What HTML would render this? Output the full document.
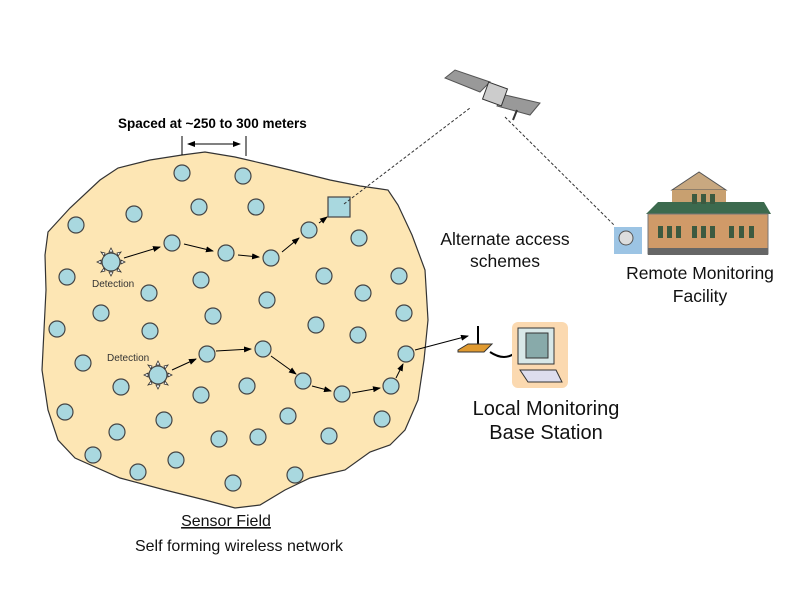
<!DOCTYPE html>
<html><head><style>body{margin:0;background:#fff}svg{display:block}</style></head><body>
<svg width="800" height="600" viewBox="0 0 800 600" xmlns="http://www.w3.org/2000/svg" font-family="Liberation Sans, sans-serif">
<defs><marker id="a" markerWidth="8" markerHeight="6" refX="7" refY="3" orient="auto-start-reverse"><path d="M0,0L8,3L0,6z" fill="#000"/></marker></defs>
<path d="M48,232 L70,208 L100,180 L118,168 L150,160 L182,155 L205,152 L235,157 L265,164 L290,170 L330,180 L360,186 L388,190 L398,205 L412,235 L425,270 L428,320 L424,360 L418,400 L405,430 L390,445 L370,452 L345,470 L310,478 L285,490 L260,505 L235,508 L205,500 L165,490 L120,478 L75,458 L58,440 L48,410 L42,370 L44,330 L46,290 L45,255 Z" fill="#fde6b4" stroke="#333" stroke-width="1.2"/>
<g fill="#a9d8df" stroke="#444" stroke-width="1.2">
<circle cx="182" cy="173" r="8"/><circle cx="243" cy="176" r="8"/><circle cx="199" cy="207" r="8"/><circle cx="256" cy="207" r="8"/><circle cx="134" cy="214" r="8"/><circle cx="76" cy="225" r="8"/><circle cx="172" cy="243" r="8"/><circle cx="226" cy="253" r="8"/><circle cx="271" cy="258" r="8"/><circle cx="309" cy="230" r="8"/><circle cx="359" cy="238" r="8"/><circle cx="67" cy="277" r="8"/><circle cx="201" cy="280" r="8"/><circle cx="149" cy="293" r="8"/><circle cx="267" cy="300" r="8"/><circle cx="324" cy="276" r="8"/><circle cx="363" cy="293" r="8"/><circle cx="399" cy="276" r="8"/><circle cx="404" cy="313" r="8"/><circle cx="101" cy="313" r="8"/><circle cx="213" cy="316" r="8"/><circle cx="57" cy="329" r="8"/><circle cx="150" cy="331" r="8"/><circle cx="316" cy="325" r="8"/><circle cx="358" cy="335" r="8"/><circle cx="207" cy="354" r="8"/><circle cx="263" cy="349" r="8"/><circle cx="83" cy="363" r="8"/><circle cx="121" cy="387" r="8"/><circle cx="247" cy="386" r="8"/><circle cx="201" cy="395" r="8"/><circle cx="303" cy="381" r="8"/><circle cx="342" cy="394" r="8"/><circle cx="391" cy="386" r="8"/><circle cx="406" cy="354" r="8"/><circle cx="65" cy="412" r="8"/><circle cx="164" cy="420" r="8"/><circle cx="288" cy="416" r="8"/><circle cx="382" cy="419" r="8"/><circle cx="117" cy="432" r="8"/><circle cx="219" cy="439" r="8"/><circle cx="258" cy="437" r="8"/><circle cx="329" cy="436" r="8"/><circle cx="93" cy="455" r="8"/><circle cx="176" cy="460" r="8"/><circle cx="138" cy="472" r="8"/><circle cx="233" cy="483" r="8"/><circle cx="295" cy="475" r="8"/>
<circle cx="111" cy="262" r="9"/><circle cx="158" cy="375" r="9"/>
<rect x="328" y="197" width="22" height="20"/>
</g>
<g fill="#fff" stroke="#333" stroke-width="0.8">
<path d="M111,248l2,4h-4z M111,276l2,-4h-4z M97,262l4,2v-4z M125,262l-4,2v-4z M101,252l4,1l-1,3z M121,252l-4,1l1,3z M101,272l4,-1l-1,-3z M121,272l-4,-1l1,-3z"/>
<path d="M158,361l2,4h-4z M158,389l2,-4h-4z M144,375l4,2v-4z M172,375l-4,2v-4z M148,365l4,1l-1,3z M168,365l-4,1l1,3z M148,385l4,-1l-1,-3z M168,385l-4,-1l1,-3z"/>
</g>
<g stroke="#000" stroke-width="1" fill="none" marker-end="url(#a)">
<line x1="124" y1="258" x2="160" y2="247"/><line x1="184" y1="244" x2="213" y2="251"/><line x1="238" y1="255" x2="259" y2="257"/><line x1="282" y1="252" x2="299" y2="238"/><line x1="319" y1="223" x2="327" y2="217"/>
<line x1="172" y1="370" x2="196" y2="359"/><line x1="216" y1="351" x2="251" y2="349"/><line x1="271" y1="356" x2="296" y2="374"/><line x1="312" y1="386" x2="331" y2="391"/><line x1="352" y1="393" x2="380" y2="388"/><line x1="396" y1="378" x2="403" y2="364"/><line x1="415" y1="350" x2="468" y2="336"/>
</g>
<g stroke="#333" stroke-width="1" stroke-dasharray="3,2" fill="none"><line x1="344" y1="204" x2="470" y2="108"/><line x1="505" y1="117" x2="615" y2="226"/></g>
<g stroke="#000" stroke-width="1"><line x1="182" y1="136" x2="182" y2="155"/><line x1="246" y1="136" x2="246" y2="156"/><line x1="188" y1="144" x2="240" y2="144" marker-end="url(#a)" marker-start="url(#a)"/></g>
<g transform="translate(445,70)"><path d="M0,8L10,0L45,12L35,22Z M60,25L95,33L85,45L52,36Z" fill="#999" stroke="#555"/><rect x="40" y="15" width="20" height="18" fill="#ccc" stroke="#333" transform="rotate(20 50 24)"/><line x1="72" y1="40" x2="68" y2="50" stroke="#333" stroke-width="2"/></g>
<g transform="translate(614,172)"><rect x="0" y="55" width="28" height="27" fill="#9cc4e4"/><circle cx="12" cy="66" r="7" fill="#ddd" stroke="#555"/>
<path d="M85,0L58,18H112Z" fill="#c8a880" stroke="#555"/><rect x="58" y="18" width="54" height="15" fill="#c8a070"/><path d="M32,42L44,30H150L157,42Z" fill="#3c6a4e"/><rect x="34" y="42" width="120" height="40" fill="#d09a68" stroke="#777"/><rect x="34" y="76" width="120" height="7" fill="#666"/>
<g fill="#3c5a40"><rect x="44" y="54" width="5" height="12"/><rect x="53" y="54" width="5" height="12"/><rect x="62" y="54" width="5" height="12"/><rect x="78" y="54" width="5" height="12"/><rect x="87" y="54" width="5" height="12"/><rect x="96" y="54" width="5" height="12"/><rect x="115" y="54" width="5" height="12"/><rect x="125" y="54" width="5" height="12"/><rect x="135" y="54" width="5" height="12"/><rect x="78" y="22" width="5" height="10"/><rect x="87" y="22" width="5" height="10"/><rect x="96" y="22" width="5" height="10"/></g></g>
<g><line x1="478" y1="326" x2="478" y2="348" stroke="#000" stroke-width="2"/><path d="M458,350L468,344H492L484,352H458Z" fill="#e09a30" stroke="#333"/><path d="M490,352Q505,362 516,352" stroke="#000" stroke-width="2" fill="none"/>
<rect x="512" y="322" width="56" height="66" rx="6" fill="#fbd9b0"/><rect x="518" y="328" width="36" height="36" fill="#d8e8e8" stroke="#333"/><rect x="526" y="333" width="22" height="25" fill="#8aa" stroke="#333"/><path d="M520,370H556L562,382H528Z" fill="#dde" stroke="#333"/></g>
<text x="118" y="128" font-size="13.5" font-weight="bold">Spaced at  ~250 to 300 meters</text>
<text x="92" y="287" font-size="10" fill="#333">Detection</text>
<text x="107" y="361" font-size="10" fill="#333">Detection</text>
<g font-size="17.5" text-anchor="middle" fill="#111"><text x="505" y="245">Alternate access</text><text x="505" y="267">schemes</text><text x="700" y="279">Remote Monitoring</text><text x="700" y="302">Facility</text></g>
<g font-size="16" text-anchor="middle" fill="#111"><text x="226" y="526" text-decoration="underline">Sensor Field</text><text x="239" y="551">Self forming wireless network</text></g>
<g font-size="20" text-anchor="middle" fill="#111"><text x="546" y="415">Local Monitoring</text><text x="546" y="439">Base Station</text></g>
</svg>
</body></html>
